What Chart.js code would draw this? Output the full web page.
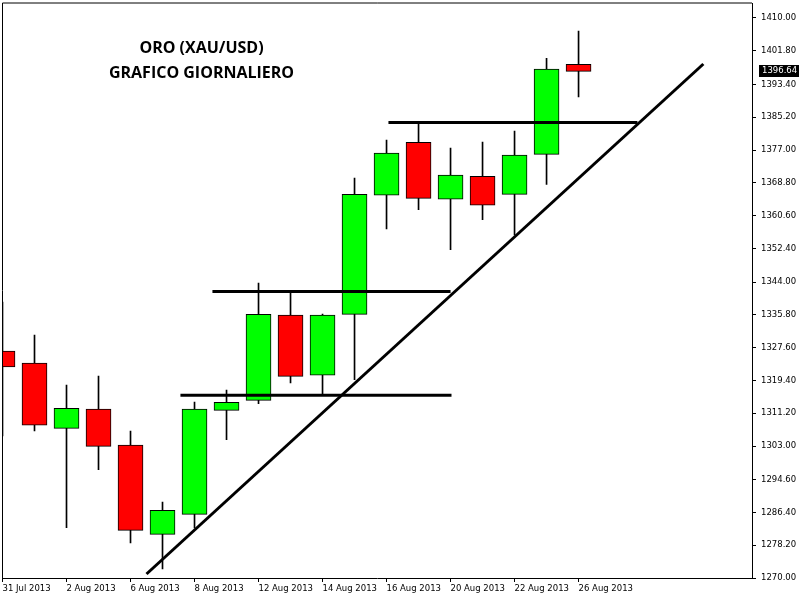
<!DOCTYPE html>
<html><head><meta charset="utf-8">
<script src="https://cdn.jsdelivr.net/npm/chart.js@4.4.0/dist/chart.umd.min.js"></script>
<style>html,body{margin:0;padding:0;background:#fff}</style>
</head><body>
<canvas id="c" width="800" height="600"></canvas>
<script>
// ---- data ----
const dates = ['31 Jul 2013','1 Aug 2013','2 Aug 2013','5 Aug 2013','6 Aug 2013','7 Aug 2013','8 Aug 2013','9 Aug 2013','12 Aug 2013','13 Aug 2013','14 Aug 2013','15 Aug 2013','16 Aug 2013','19 Aug 2013','20 Aug 2013','21 Aug 2013','22 Aug 2013','23 Aug 2013','26 Aug 2013'];
const opens  = [1326.75,1323.7,1307.4,1312.2,1303.2,1280.9,1285.9,1311.9,1314.4,1335.7,1320.7,1335.9,1365.7,1378.9,1364.7,1370.4,1365.9,1375.9,1398.4];
const highs  = [1339.0,1330.75,1318.25,1320.5,1306.75,1289.0,1314.0,1317.0,1343.7,1341.3,1336.0,1370.0,1379.5,1383.9,1377.5,1379.0,1381.75,1399.9,1406.75];
const lows   = [1305.5,1306.8,1282.6,1297.1,1278.8,1272.3,1282.5,1304.6,1313.6,1318.8,1315.7,1319.6,1357.3,1362.1,1352.1,1359.6,1355.75,1368.4,1390.3];
const closes = [1322.75,1308.2,1312.4,1302.9,1281.9,1286.9,1312.2,1313.9,1335.9,1320.4,1335.7,1365.9,1376.2,1364.9,1370.7,1363.2,1375.7,1397.2,1396.64];

const xTickIdx = [0,2,4,6,8,10,12,14,16,18];
const xTickLabels = ['31 Jul 2013','2 Aug 2013','6 Aug 2013','8 Aug 2013','12 Aug 2013','14 Aug 2013','16 Aug 2013','20 Aug 2013','22 Aug 2013','26 Aug 2013'];
const yTickValues = [1270.0,1278.2,1286.4,1294.6,1303.0,1311.2,1319.4,1327.6,1335.8,1344.0,1352.4,1360.6,1368.8,1377.0,1385.2,1393.4,1401.8,1410.0];
const yTickLabels = ['1270.00','1278.20','1286.40','1294.60','1303.00','1311.20','1319.40','1327.60','1335.80','1344.00','1352.40','1360.60','1368.80','1377.00','1385.20','1393.40','1401.80','1410.00'];

// drawn lines (x in bar index units, y in price)
const trendX = [4.5, 21.9];
const trendY = [1271.0, 1398.5];
const support1X = [5.56, 14.03];
const support1Y = [1315.7, 1315.7];
const resist1X = [6.56, 14.0];
const resist1Y = [1341.6, 1341.6];
const resist2X = [12.06, 19.84];
const resist2Y = [1383.9, 1383.9];

const titleLines = ['ORO (XAU/USD)', 'GRAFICO GIORNALIERO'];
const lastPriceLabel = '1396.64';

// ---- build ----
const idx = dates.map((d,i)=>i);
const bodyData = idx.map(i => ({x:i, y:[opens[i], closes[i]]}));
const wickData = idx.map(i => ({x:i, y:[lows[i], highs[i]]}));
const bodyColors = idx.map(i => closes[i] >= opens[i] ? '#00FF00' : '#FF0000');
const pts = (xs, ys) => xs.map((x,i)=>({x:x, y:ys[i]}));
const lineDs = (xs, ys) => ({type:'line', data: pts(xs, ys), borderColor:'#000', borderWidth:3, pointRadius:0, fill:false, order:0, tension:0});

const axisFont = {family:'DejaVu Sans, Tahoma, sans-serif', size:8.5};

const framePlugin = {
  id:'frame',
  afterDraw(chart){
    const {ctx, chartArea:a} = chart;
    ctx.save();
    ctx.strokeStyle = '#000'; ctx.lineWidth = 1;
    ctx.beginPath();
    ctx.moveTo(a.left, a.bottom); ctx.lineTo(a.left, a.top); ctx.lineTo(a.right, a.top);
    ctx.stroke();
    // title
    ctx.fillStyle = '#000';
    ctx.font = 'bold 16px "Open Sans", sans-serif';
    ctx.textAlign = 'center'; ctx.textBaseline = 'middle';
    ctx.fillText(titleLines[0], a.left + 199, 48);
    ctx.fillText(titleLines[1], a.left + 199, 73);
    // last price tag
    const y = chart.scales.y.getPixelForValue(closes[closes.length-1]);
    ctx.fillStyle = '#000';
    ctx.fillRect(a.right + 7, Math.round(y) - 6, 40, 12);
    ctx.fillStyle = '#fff';
    ctx.font = '8.5px "DejaVu Sans", Tahoma, sans-serif';
    ctx.textAlign = 'left';
    ctx.fillText(lastPriceLabel, a.right + 10, Math.round(y));
    ctx.restore();
  }
};

new Chart(document.getElementById('c'), {
  type:'bar',
  data:{
    datasets:[
      lineDs(trendX, trendY),
      lineDs(support1X, support1Y),
      lineDs(resist1X, resist1Y),
      lineDs(resist2X, resist2Y),
      {type:'bar', data: bodyData, backgroundColor: bodyColors, borderColor:'#000', borderWidth:1, borderSkipped:false, barThickness:25, grouped:false, order:1},
      {type:'bar', data: wickData, backgroundColor:'#000', borderWidth:0, barThickness:1, grouped:false, order:2}
    ]
  },
  options:{
    responsive:false,
    animation:false,
    devicePixelRatio:1,
    layout:{padding:{left:2.5, top:3, right:0, bottom:0}},
    plugins:{legend:{display:false}, tooltip:{enabled:false}, title:{display:false}},
    scales:{
      x:{
        type:'linear', position:'bottom', min:0, max:23.42, offset:false,
        grid:{drawOnChartArea:false, drawTicks:true, tickLength:4, color:'#000', offset:false},
        border:{display:true, color:'#000', width:1},
        ticks:{align:'start', maxRotation:0, minRotation:0, autoSkip:false, padding:2, font:axisFont, color:'#000',
          callback:(v,i)=> xTickLabels[i]},
        afterBuildTicks:s=>{ s.ticks = xTickIdx.map(v=>({value:v})); },
        afterFit:s=>{ s.height = 22; s.paddingLeft = 0; s.paddingRight = 0; }
      },
      y:{
        type:'linear', position:'right', min:1270, max:1413.75,
        grid:{drawOnChartArea:false, drawTicks:true, tickLength:4, color:'#000'},
        border:{display:true, color:'#000', width:1},
        ticks:{padding:5, font:axisFont, color:'#000', callback:(v,i)=> yTickLabels[i]},
        afterBuildTicks:s=>{ s.ticks = yTickValues.map(v=>({value:v})); },
        afterFit:s=>{ s.width = 48; s.paddingTop = 0; s.paddingBottom = 0; }
      }
    }
  },
  plugins:[framePlugin]
});
</script>
</body></html>
